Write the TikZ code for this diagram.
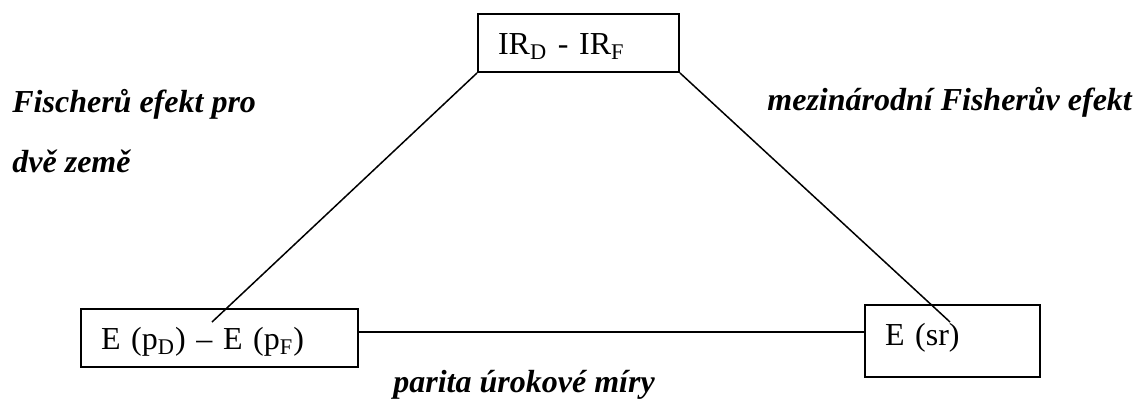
\documentclass[tikz,border=0pt]{standalone}
\usepackage{fontspec}
\setmainfont{Liberation Serif}
\usetikzlibrary{positioning}

\begin{document}
\begin{tikzpicture}[
  x=0.5pt, y=-0.5pt,
  box/.style={rectangle, draw=black, line width=1pt, anchor=north west,
              align=left, inner xsep=10pt, inner ysep=0pt,
              text height=20pt, text depth=9pt, font=\fontsize{16}{19}\selectfont},
  tag/.style={anchor=base west, inner sep=0pt,
              font=\fontsize{16}{19}\selectfont\bfseries\itshape},
  link/.style={line width=0.75pt, black}
]
\useasboundingbox (0,0) rectangle (1136,403);

% Boxes
\node[box, text width=80.5pt] (ir) at (477,13)
  {IR\textsubscript{D} - IR\textsubscript{F}};
\node[box, text width=118.5pt] (infl) at (80,308)
  {E (p\textsubscript{D}) – E (p\textsubscript{F})};
\node[box, text width=67.5pt, text depth=16pt] (sr) at (864,304)
  {E (sr)};

% Free ends of the diagonals
\coordinate (lend) at (212,322);
\coordinate (rend) at (950,322);
\coordinate (hline) at (357,332);

% Connectors
\draw[link] (ir.south west) -- (lend);
\draw[link] (ir.south east) -- (rend);
\draw[link] (infl.east |- hline) -- (sr.west |- hline);

% Labels
\node[tag] (fis1) at (12,112) {Fischerů efekt pro};
\node[tag] (fis2) at (12,172) {dvě země};
\node[tag] (mfe) at (767,110) {mezinárodní Fisherův efekt};
\node[tag] (uip) at (393,392) {parita úrokové míry};

\end{tikzpicture}
\end{document}
